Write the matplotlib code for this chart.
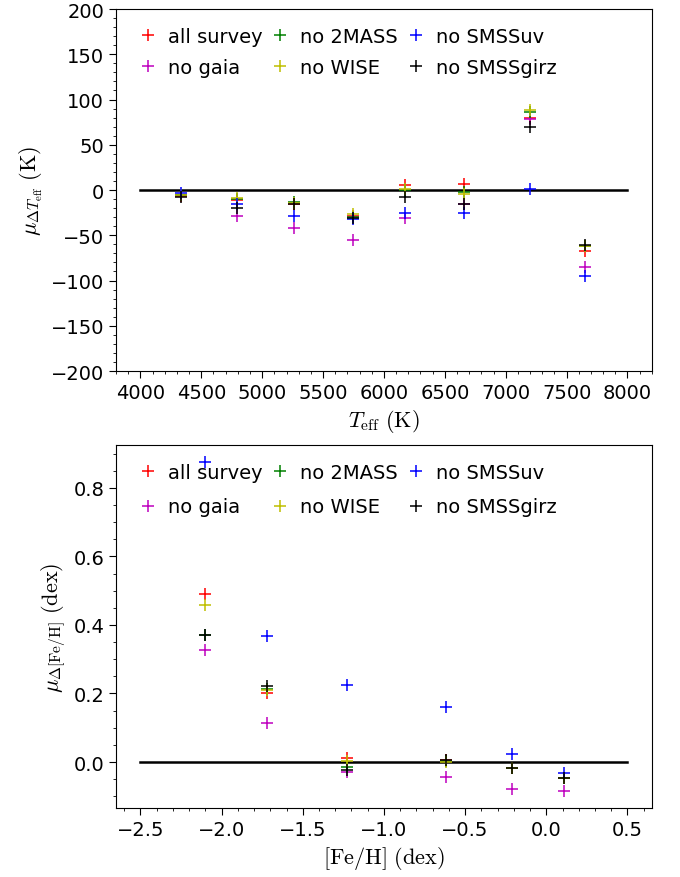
import matplotlib
matplotlib.use("Agg")
import matplotlib.pyplot as plt
from matplotlib.ticker import MultipleLocator

plt.rcParams['mathtext.fontset'] = 'cm'

labels = ['all survey', 'no gaia', 'no 2MASS', 'no WISE', 'no SMSSuv', 'no SMSSgirz']
colors = ['r', 'm', 'g', 'y', 'b', 'k']

# Top panel: Teff bins
teff_x = [4330, 4790, 5260, 5750, 6175, 6660, 7200, 7655]
teff_all_survey = [-7, -11, -16, -29, 5, 7, 80, -67]
teff_no_gaia = [-5, -29, -42, -55, -31, -15, 79, -85]
teff_no_2mass = [-6, -10, -13, -30, 0, -2, 86, -62]
teff_no_wise = [-6, -9, -14, -27, 1, -4, 88, -62]
teff_no_smssuv = [-3, -16, -29, -32, -25, -25, 1, -95]
teff_no_smssgirz = [-8, -20, -16, -31, -8, -16, 70, -61]

# Bottom panel: [Fe/H] bins
feh_x = [-2.10, -1.72, -1.23, -0.62, -0.21, 0.11]
feh_all_survey = [0.49, 0.20, 0.013, 0.006, -0.016, -0.047]
feh_no_gaia = [0.327, 0.113, -0.029, -0.044, -0.078, -0.086]
feh_no_2mass = [0.372, 0.213, -0.015, 0.004, -0.016, -0.048]
feh_no_wise = [0.458, 0.209, 0.002, 0.001, -0.017, -0.046]
feh_no_smssuv = [0.877, 0.367, 0.225, 0.160, 0.024, -0.031]
feh_no_smssgirz = [0.370, 0.222, -0.022, 0.006, -0.016, -0.047]

teff_series = [teff_all_survey, teff_no_gaia, teff_no_2mass, teff_no_wise,
               teff_no_smssuv, teff_no_smssgirz]
feh_series = [feh_all_survey, feh_no_gaia, feh_no_2mass, feh_no_wise,
              feh_no_smssuv, feh_no_smssgirz]

fig = plt.figure(figsize=(6.8, 8.78), dpi=100)
ax1 = fig.add_axes([0.1706, 0.5763, 0.788, 0.4123])
ax2 = fig.add_axes([0.1706, 0.0786, 0.788, 0.4134])

ms = 9
mew = 1.1
leg_kw = dict(ncol=3, loc='upper left', frameon=False, fontsize=14,
              handletextpad=0.28, columnspacing=0.15, handlelength=1.5,
              borderaxespad=0.5)

for ys, c, lab in zip(teff_series, colors, labels):
    ax1.plot(teff_x, ys, '+', color=c, ms=ms, mew=mew, label=lab, ls='none')
ax1.plot([4000, 8000], [0, 0], color='k', lw=1.8, zorder=1)
ax1.set_ylim(-200, 200)
ax1.yaxis.set_major_locator(MultipleLocator(50))
ax1.yaxis.set_minor_locator(MultipleLocator(10))
ax1.xaxis.set_major_locator(MultipleLocator(500))
ax1.xaxis.set_minor_locator(MultipleLocator(100))
ax1.set_xlabel(r'$T_{\rm eff}\ ({\rm K})$', fontsize=16)
ax1.set_ylabel(r'$\mu_{\Delta T_{\rm eff}}\ ({\rm K})$', fontsize=16)
ax1.legend(labelspacing=0.64, **leg_kw)

for ys, c, lab in zip(feh_series, colors, labels):
    ax2.plot(feh_x, ys, '+', color=c, ms=ms, mew=mew, label=lab, ls='none')
ax2.plot([-2.5, 0.5], [0, 0], color='k', lw=1.8, zorder=1)
ax2.yaxis.set_major_locator(MultipleLocator(0.2))
ax2.yaxis.set_minor_locator(MultipleLocator(0.05))
ax2.xaxis.set_major_locator(MultipleLocator(0.5))
ax2.xaxis.set_minor_locator(MultipleLocator(0.1))
ax2.set_xlabel(r'$[{\rm Fe/H}]\ ({\rm dex})$', fontsize=16)
ax2.set_ylabel(r'$\mu_{\Delta [{\rm Fe/H}]}\ ({\rm dex})$', fontsize=16)
ax2.legend(labelspacing=0.82, **leg_kw)

for ax in (ax1, ax2):
    ax.tick_params(axis='both', which='major', labelsize=14, length=5)
    ax.tick_params(axis='both', which='minor', length=2.5)

fig.savefig('out.png', dpi=100)
